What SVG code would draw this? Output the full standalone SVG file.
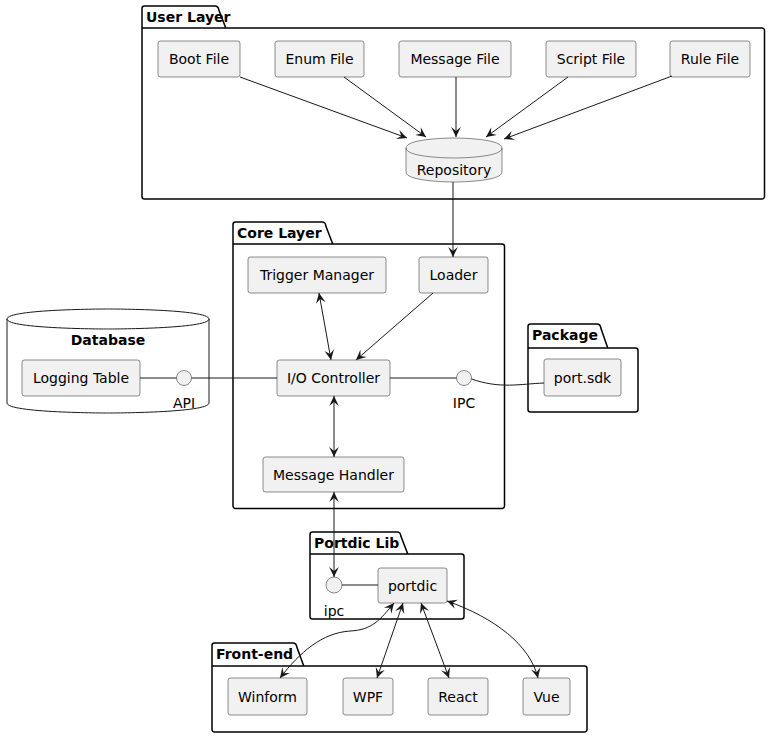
<svg xmlns="http://www.w3.org/2000/svg" width="771" height="737" viewBox="0 0 771 737">
<style>
text{font-family:"DejaVu Sans",Verdana,sans-serif;font-size:14px;fill:#000}
.lbl{text-anchor:middle}
.pkgt{font-weight:bold}
.box{fill:#F1F1F1;stroke:#181818;stroke-width:0.5}
.pkg{fill:none;stroke:#000;stroke-width:1.5}
.c{fill:none;stroke:#181818;stroke-width:1}
.a{marker-end:url(#ah)}
.aa{marker-end:url(#ah);marker-start:url(#ah)}
</style>
<defs>
<marker id="ah" markerUnits="userSpaceOnUse" markerWidth="14" markerHeight="14" viewBox="-12 -7 14 14" refX="0" refY="0" orient="auto-start-reverse">
<path d="M-10,-4.8 L0,0 L-10,4.8 L-6,0 Z" fill="#181818"/>
</marker>
</defs>

<g id="user-layer">
<path class="pkg" d="M142,8.5 A2.5,2.5 0 0 1 144.5,6 L215,6 A3.75,3.75 0 0 1 218.75,9.75 L225.75,28 L762,28 A2.5,2.5 0 0 1 764.5,30.5 L764.5,196.5 A2.5,2.5 0 0 1 762,199 L144.5,199 A2.5,2.5 0 0 1 142,196.5 Z M142,28 L225.75,28"/>
<text class="pkgt" x="146" y="22">User Layer</text>
</g>
<g id="core-layer">
<path class="pkg" d="M233,224.5 A2.5,2.5 0 0 1 235.5,222 L322,222 A3.75,3.75 0 0 1 325.75,225.75 L332.75,244 L502,244 A2.5,2.5 0 0 1 504.5,246.5 L504.5,506 A2.5,2.5 0 0 1 502,508.5 L235.5,508.5 A2.5,2.5 0 0 1 233,506 Z M233,244 L332.75,244"/>
<text class="pkgt" x="237" y="238">Core Layer</text>
</g>
<g id="package">
<path class="pkg" d="M528,326.5 A2.5,2.5 0 0 1 530.5,324 L597,324 A3.75,3.75 0 0 1 600.75,327.75 L607.75,348 L635.5,348 A2.5,2.5 0 0 1 638,350.5 L638,409.5 A2.5,2.5 0 0 1 635.5,412 L530.5,412 A2.5,2.5 0 0 1 528,409.5 Z M528,348 L607.75,348"/>
<text class="pkgt" x="532" y="340">Package</text>
</g>
<g id="portdic-lib">
<path class="pkg" d="M310,534.5 A2.5,2.5 0 0 1 312.5,532 L397,532 A3.75,3.75 0 0 1 400.75,535.75 L407.75,554 L461.5,554 A2.5,2.5 0 0 1 464,556.5 L464,616.5 A2.5,2.5 0 0 1 461.5,619 L312.5,619 A2.5,2.5 0 0 1 310,616.5 Z M310,554 L407.75,554"/>
<text class="pkgt" x="314" y="548">Portdic Lib</text>
</g>
<g id="front-end">
<path class="pkg" d="M212,645.5 A2.5,2.5 0 0 1 214.5,643 L293,643 A3.75,3.75 0 0 1 296.75,646.75 L303.75,666 L584.5,666 A2.5,2.5 0 0 1 587,668.5 L587,729.5 A2.5,2.5 0 0 1 584.5,732 L214.5,732 A2.5,2.5 0 0 1 212,729.5 Z M212,666 L303.75,666"/>
<text class="pkgt" x="216" y="659">Front-end</text>
</g>
<g id="database">
<path d="M7,319 C7,309 108,309 108,309 C108,309 209,309 209,319 L209,403 C209,413 108,413 108,413 C108,413 7,413 7,403 Z" fill="none" stroke="#181818" stroke-width="1"/>
<path d="M7,319 C7,329 108,329 108,329 C108,329 209,329 209,319" fill="none" stroke="#181818" stroke-width="1"/>
<text class="lbl pkgt" x="108" y="345">Database</text>
</g>

<g id="boot-file"><rect class="box" x="158" y="41" width="82" height="36" rx="2.5"/><text class="lbl" x="199" y="64">Boot File</text></g>
<g id="enum-file"><rect class="box" x="275" y="41" width="89" height="36" rx="2.5"/><text class="lbl" x="319.5" y="64">Enum File</text></g>
<g id="message-file"><rect class="box" x="399" y="41" width="112" height="36" rx="2.5"/><text class="lbl" x="455" y="64">Message File</text></g>
<g id="script-file"><rect class="box" x="546" y="41" width="90" height="36" rx="2.5"/><text class="lbl" x="591" y="64">Script File</text></g>
<g id="rule-file"><rect class="box" x="670" y="41" width="80" height="36" rx="2.5"/><text class="lbl" x="710" y="64">Rule File</text></g>
<g id="repository">
<path class="box" d="M406,148 C406,138 454,138 454,138 C454,138 502,138 502,148 L502,172 C502,182 454,182 454,182 C454,182 406,182 406,172 Z"/>
<path d="M406,148 C406,158 454,158 454,158 C454,158 502,158 502,148" fill="none" stroke="#181818" stroke-width="0.5"/>
<text class="lbl" x="454" y="175">Repository</text>
</g>
<g id="trigger-manager"><rect class="box" x="248" y="257" width="138" height="36" rx="2.5"/><text class="lbl" x="317" y="280">Trigger Manager</text></g>
<g id="loader"><rect class="box" x="419" y="257" width="69" height="36" rx="2.5"/><text class="lbl" x="453.5" y="280">Loader</text></g>
<g id="io-controller"><rect class="box" x="277" y="360" width="113" height="36" rx="2.5"/><text class="lbl" x="333.5" y="383">I/O Controller</text></g>
<g id="message-handler"><rect class="box" x="263" y="457" width="141" height="35" rx="2.5"/><text class="lbl" x="333.5" y="480">Message Handler</text></g>
<g id="logging-table"><rect class="box" x="22" y="360" width="118" height="36" rx="2.5"/><text class="lbl" x="81" y="383">Logging Table</text></g>
<g id="api"><circle class="box" cx="184" cy="378" r="7.5"/><text class="lbl" x="184" y="408">API</text></g>
<g id="ipc-core"><circle class="box" cx="464" cy="378" r="7.5"/><text class="lbl" x="464" y="408">IPC</text></g>
<g id="port-sdk"><rect class="box" x="544" y="359" width="77" height="37" rx="2.5"/><text class="lbl" x="582.5" y="383">port.sdk</text></g>
<g id="ipc"><circle class="box" cx="334" cy="585" r="8"/><text class="lbl" x="334" y="616">ipc</text></g>
<g id="portdic"><rect class="box" x="378" y="568" width="69" height="35" rx="2.5"/><text class="lbl" x="412.5" y="591">portdic</text></g>
<g id="winform"><rect class="box" x="228" y="678" width="79" height="37" rx="2.5"/><text class="lbl" x="267.5" y="702">Winform</text></g>
<g id="wpf"><rect class="box" x="343" y="678" width="50" height="37" rx="2.5"/><text class="lbl" x="368" y="702">WPF</text></g>
<g id="react"><rect class="box" x="428" y="678" width="60" height="37" rx="2.5"/><text class="lbl" x="458" y="702">React</text></g>
<g id="vue"><rect class="box" x="523" y="678" width="47" height="37" rx="2.5"/><text class="lbl" x="546.5" y="702">Vue</text></g>

<g id="connectors">
<path class="c a" d="M240,77 L407,138"/>
<path class="c a" d="M344,77 L426,137"/>
<path class="c a" d="M456,77 L456,137"/>
<path class="c a" d="M568,77 L486,137"/>
<path class="c a" d="M672,76 L504,139"/>
<path class="c a" d="M453,182 L453,257"/>
<path class="c aa" d="M319,293 L331,360"/>
<path class="c a" d="M433,293 L356,360"/>
<path class="c aa" d="M334,396 L334,457"/>
<path class="c" d="M140,378 L176.5,378 M191.5,378 L277,378 M390,378 L456.5,378"/>
<path class="c" d="M471.5,379 C500,389 520,384 544,383"/>
<path class="c aa" d="M334,492 L334,577"/>
<path class="c" d="M342,585 L378,585"/>
<path class="c aa" d="M394,603 C380,620 372,630 350,631 C322,633 300,652 280,678"/>
<path class="c aa" d="M403,603 L377,678"/>
<path class="c aa" d="M421,603 L449,678"/>
<path class="c aa" d="M447,601 C495,618 530,645 538,678"/>
</g>
</svg>
